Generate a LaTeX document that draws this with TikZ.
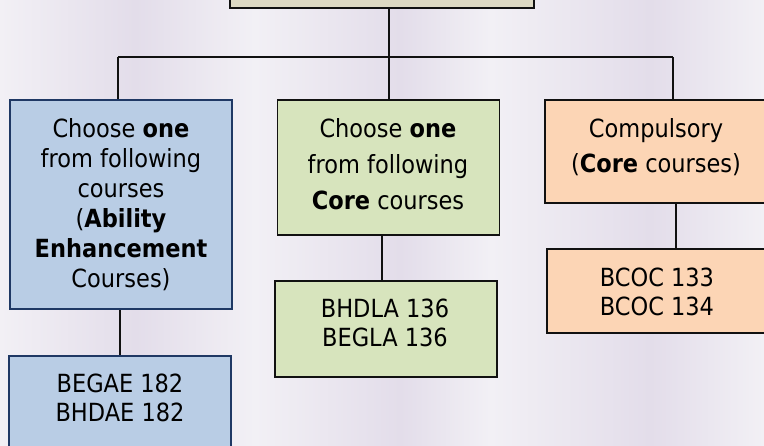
\documentclass[tikz,border=0pt]{standalone}
\usepackage{fontspec}
\setmainfont{DejaVu Sans Condensed}
\definecolor{bgA}{HTML}{F2F0F5}
\definecolor{bgB}{HTML}{E3DDEA}
\definecolor{blueF}{HTML}{B9CDE5}
\definecolor{blueD}{HTML}{1F3864}
\definecolor{greenF}{HTML}{D7E4BD}
\definecolor{orangeF}{HTML}{FCD5B5}
\definecolor{tanF}{HTML}{DDD9C3}
\definecolor{lineC}{HTML}{111111}
\begin{document}
\begin{tikzpicture}[x=1pt,y=-1pt,
  box/.style={draw=lineC, line width=1.8pt, minimum width=222pt, inner sep=0pt},
  bluebox/.style={box, draw=blueD, line width=2.2pt, fill=blueF},
  greenbox/.style={box, fill=greenF},
  orangebox/.style={box, fill=orangeF},
  txt/.style={inner sep=0pt, align=center, text=black},
  conn/.style={draw=lineC, line width=1.4pt}]
\useasboundingbox (0,0) rectangle (764,445);
\clip (0,0) rectangle (764,445);
% background bands
\shade[left color=bgA,right color=bgB] (0,0) rectangle (135,445);
\shade[left color=bgB,right color=bgA] (135,0) rectangle (255,445);
\shade[left color=bgA,right color=bgB] (255,0) rectangle (400,445);
\shade[left color=bgB,right color=bgA] (400,0) rectangle (490,445);
\shade[left color=bgA,right color=bgB] (490,0) rectangle (650,445);
\shade[left color=bgB,right color=bgA] (650,0) rectangle (764,445);
% boxes
\node[box, fill=tanF, minimum width=304pt, minimum height=60pt] (top) at (382,-22) {};
\node[bluebox, minimum height=209pt] (L1) at (121,204.5) {};
\node[bluebox, minimum height=96pt] (L2) at (120,404) {};
\node[greenbox, minimum height=135pt] (M1) at (388.5,167.5) {};
\node[greenbox, minimum height=96pt] (M2) at (386,329) {};
\node[orangebox, minimum height=103pt] (R1) at (656,151.5) {};
\node[orangebox, minimum height=84pt] (R2) at (658,291) {};
% texts
\node[txt, font=\fontsize{25}{30}\selectfont] (L1t) at (121,205)
  {Choose \textbf{one}\\from following\\courses\\(\textbf{Ability}\\\textbf{Enhancement}\\Courses)};
\node[txt, font=\fontsize{25}{29}\selectfont] (L2t) at (120,397.5) {BEGAE 182\\BHDAE 182};
\node[txt, font=\fontsize{25}{36}\selectfont] (M1t) at (388,164) {Choose \textbf{one}\\from following\\\textbf{Core} courses};
\node[txt, font=\fontsize{25}{29}\selectfont] (M2t) at (385,322.5) {BHDLA 136\\BEGLA 136};
\node[txt, font=\fontsize{25}{35}\selectfont] (R1t) at (656,147.5) {Compulsory\\(\textbf{Core} courses)};
\node[txt, font=\fontsize{25}{29}\selectfont] (R2t) at (657,291.5) {BCOC 133\\BCOC 134};
% connectors
\coordinate (hl) at (118,57);
\coordinate (hr) at (673,57);
\coordinate (hm) at (389,57);
\draw[conn] (top.south -| hm) -- (hm |- M1.north);
\draw[conn] (hl) -- (hr);
\draw[conn] (hl) -- (hl |- L1.north);
\draw[conn] (hr) -- (hr |- R1.north);
\coordinate (ll) at (120,0);
\draw[conn] (ll |- L1.south) -- (ll |- L2.north);
\coordinate (mm) at (382,0);
\draw[conn] (mm |- M1.south) -- (mm |- M2.north);
\coordinate (rr) at (676,0);
\draw[conn] (rr |- R1.south) -- (rr |- R2.north);
\end{tikzpicture}
\end{document}
